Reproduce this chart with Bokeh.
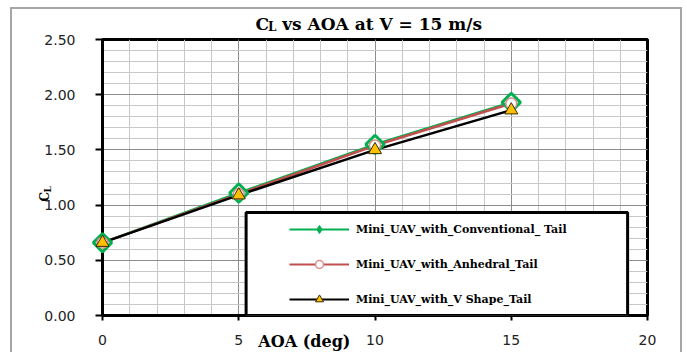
import math
import numpy as np
from bokeh.plotting import figure
from bokeh.models import (FixedTicker, PrintfTickFormatter, Label, Legend, LegendItem,
                          BoxAnnotation, ColumnDataSource, Range1d, InlineStyleSheet)
from bokeh.embed import file_html
from bokeh.resources import INLINE

# ---- data ----
aoa = [0, 5, 10, 15]
cl_conventional = [0.66, 1.11, 1.55, 1.93]
cl_anhedral = [0.66, 1.10, 1.54, 1.92]
cl_vshape = [0.66, 1.09, 1.50, 1.86]
series_names = ["Mini_UAV_with_Conventional_ Tail",
                "Mini_UAV_with_Anhedral_Tail",
                "Mini_UAV_with_V Shape_Tail"]
x_ticks = [0, 5, 10, 15, 20]
y_ticks = [0.0, 0.5, 1.0, 1.5, 2.0, 2.5]
x_minor = list(range(0, 21))
y_minor = [i / 10 for i in range(0, 26)]
title_c = "C"
title_sub = "L"
title_rest = "vs AOA at V = 15 m/s"
y_label_c = "C"
y_label_sub = "L"
x_label = "AOA (deg)"

GREEN = "#00b050"
RED = "#c0504d"
PINK = "#d98c88"
ORANGE = "#ffc000"
SERIF = "DejaVu Serif"
SANS = "DejaVu Sans"
GRAY = "#a6a6a6"

frame_css = InlineStyleSheet(css=f"""
:host::before {{
  content: "";
  position: absolute;
  left: 10px; top: 7px;
  width: 668px; height: 343px;
  border: 2px solid {GRAY};
  border-bottom: none;
  pointer-events: none;
}}
""")

p = figure(width=687, height=352, output_backend="svg", toolbar_location=None,
           x_range=Range1d(0, 20), y_range=Range1d(0, 2.5), title=None,
           min_border_left=102, min_border_right=40, min_border_top=39, min_border_bottom=37)
p.border_fill_color = None
p.background_fill_color = "white"
p.outline_line_color = "black"
p.outline_line_width = 3
p.stylesheets = [frame_css]

# axes
for ax in (p.xaxis[0], p.yaxis[0]):
    ax.axis_line_color = "black"
    ax.axis_line_width = 3
    ax.major_tick_line_color = "black"
    ax.major_tick_line_width = 2
    ax.major_tick_in = 0
    ax.minor_tick_out = 0
    ax.minor_tick_in = 0
    ax.major_label_text_font = SANS
    ax.major_label_text_font_size = "14px"
    ax.major_label_text_color = "#222222"

p.xaxis[0].ticker = FixedTicker(ticks=x_ticks, minor_ticks=x_minor)
p.yaxis[0].ticker = FixedTicker(ticks=y_ticks, minor_ticks=y_minor)
p.yaxis[0].formatter = PrintfTickFormatter(format="%.2f")
p.xaxis[0].major_tick_out = 5
p.yaxis[0].major_tick_out = 7
p.xaxis[0].major_label_standoff = 14
p.yaxis[0].major_label_standoff = 20

p.xgrid.ticker = FixedTicker(ticks=x_ticks, minor_ticks=x_minor)
p.ygrid.ticker = FixedTicker(ticks=y_ticks, minor_ticks=y_minor)
for g in (p.xgrid[0], p.ygrid[0]):
    g.grid_line_color = "#8c8c8c"
    g.grid_line_width = 1
    g.minor_grid_line_color = "#c8c8c8"
    g.minor_grid_line_width = 1

# series (markers on overlay level so the ones on the axis are not cut in half)
p.line(aoa, cl_conventional, line_color=GREEN, line_width=2.5)
p.line(aoa, cl_anhedral, line_color=RED, line_width=2.5)
p.line(aoa, cl_vshape, line_color="black", line_width=2.5)
p.scatter(aoa, cl_conventional, marker="square", angle=math.pi / 4, size=13,
          line_color=GREEN, line_width=3, fill_color="white", level="overlay")
p.scatter(aoa, cl_anhedral, marker="circle", size=11,
          line_color=PINK, line_width=1.5, fill_color="white", level="overlay")
p.scatter(aoa, cl_vshape, marker="triangle", size=13,
          line_color="#3a2a00", line_width=1, fill_color=ORANGE, level="overlay")

# legend box
p.add_layout(BoxAnnotation(left=5.27, right=19.27, bottom=0.0, top=0.933,
                           fill_color="white", fill_alpha=1.0,
                           line_color="black", line_width=3, line_alpha=1.0))

def legend_src():
    return ColumnDataSource(dict(x=np.array([np.nan]), y=np.array([np.nan])))

lg1 = p.line("x", "y", source=legend_src(), line_color=GREEN, line_width=2)
ls1 = p.scatter("x", "y", source=legend_src(), marker="diamond", size=9,
                line_color=GREEN, fill_color=GREEN)
lg2 = p.line("x", "y", source=legend_src(), line_color=RED, line_width=2)
ls2 = p.scatter("x", "y", source=legend_src(), marker="circle", size=9,
                line_color=PINK, line_width=1.5, fill_color="white")
lg3 = p.line("x", "y", source=legend_src(), line_color="black", line_width=2)
ls3 = p.scatter("x", "y", source=legend_src(), marker="triangle", size=8,
                line_color="#3a2a00", fill_color=ORANGE)

legend = Legend(items=[LegendItem(label=series_names[0], renderers=[lg1, ls1]),
                       LegendItem(label=series_names[1], renderers=[lg2, ls2]),
                       LegendItem(label=series_names[2], renderers=[lg3, ls3])],
                location=(180, -1), orientation="vertical",
                glyph_width=60, glyph_height=20, label_height=20, spacing=15,
                padding=7, margin=0, label_standoff=7,
                label_text_font=SERIF, label_text_font_size="11px",
                label_text_font_style="bold", label_text_color="black",
                border_line_alpha=0, background_fill_alpha=0)
p.add_layout(legend, "center")

def txt(text, x, y, size, angle=0.0):
    return Label(x=x, y=y, x_units="data", y_units="data", text=text, angle=angle,
                 text_font=SERIF, text_font_style="bold", text_font_size=size,
                 text_baseline="alphabetic", text_align="left", text_color="black")

# title: C with subscript L (placed in side panels so they are not clipped)
p.add_layout(txt(title_c, 5.615, 2.640, "17px"), "left")
p.add_layout(txt(title_sub, 6.073, 2.613, "12px"), "right")
p.add_layout(txt(title_rest, 6.594, 2.640, "17px"), "above")

# y-axis label (rotated C with subscript L)
p.add_layout(txt(y_label_c, -2.128, 1.0326, "12px", math.pi / 2), "left")
p.add_layout(txt(y_label_sub, -2.018, 1.114, "9px", math.pi / 2), "right")

# x-axis label
p.add_layout(txt(x_label, 5.72, -0.232, "16px"), "above")

open("out.html", "w").write(file_html(p, INLINE))
